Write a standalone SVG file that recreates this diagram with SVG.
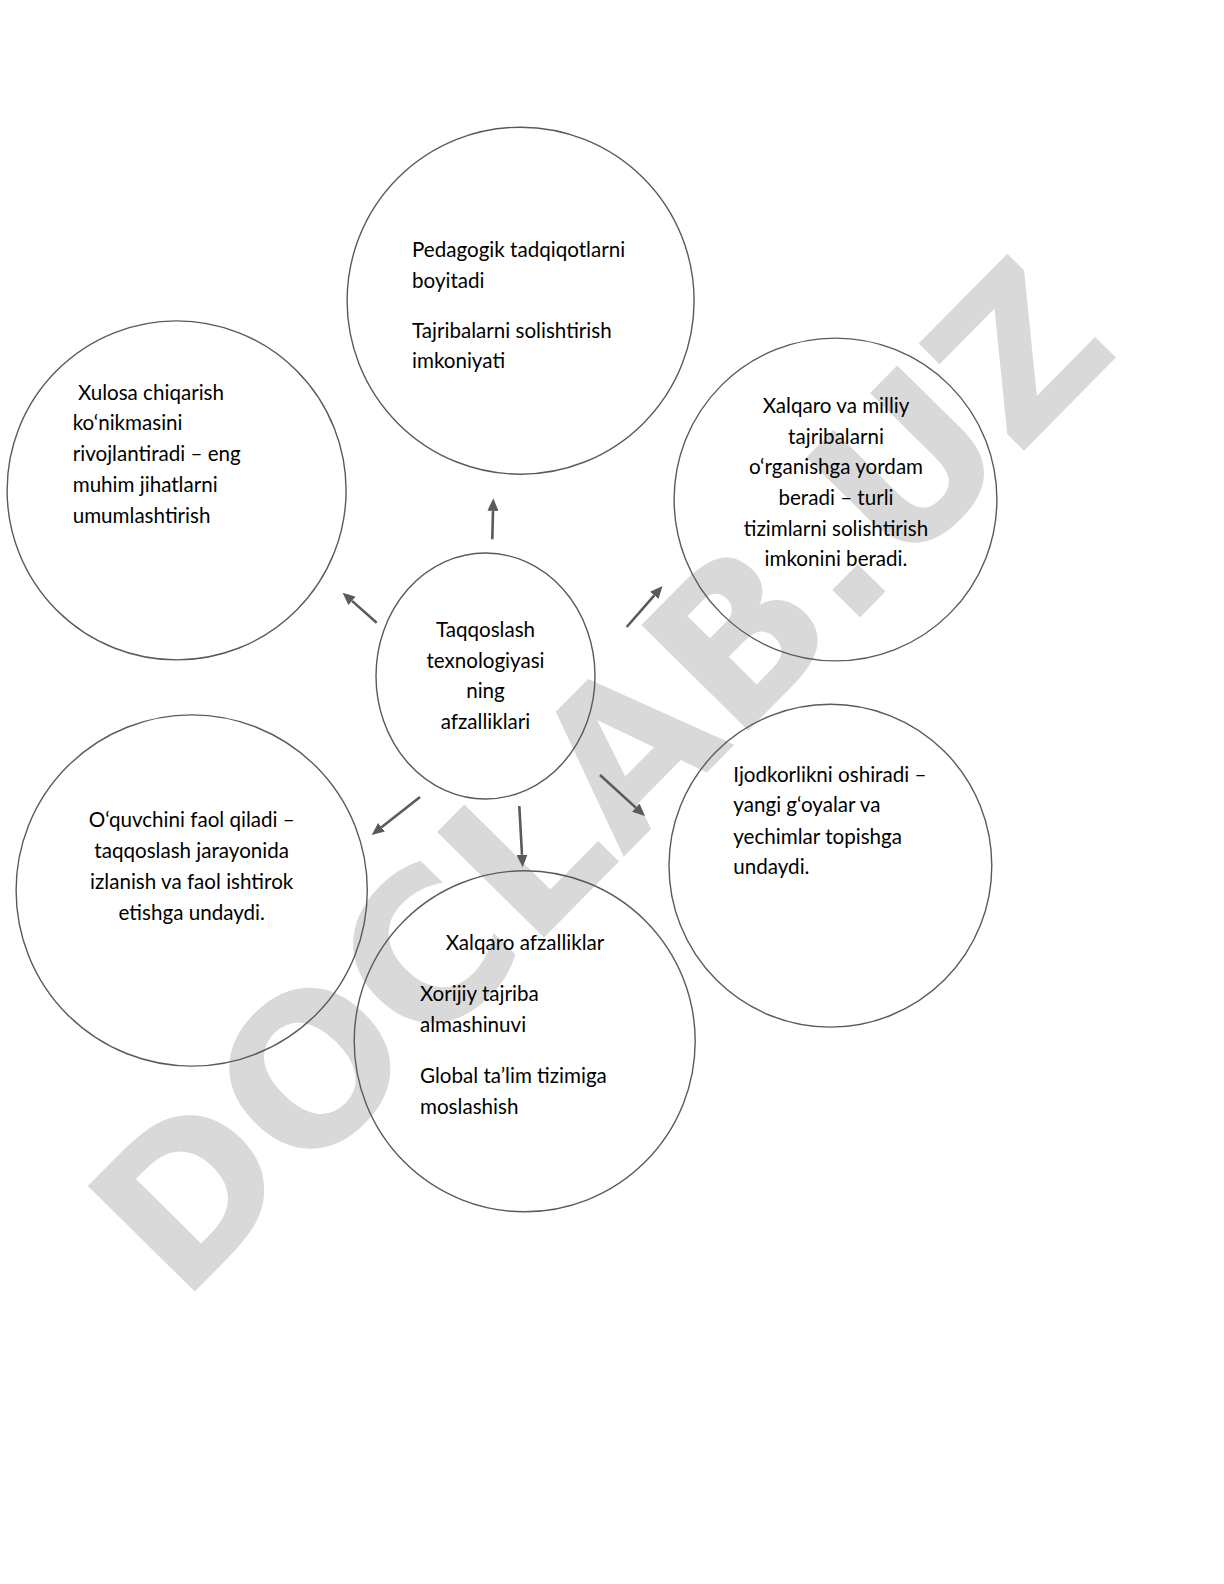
<svg xmlns="http://www.w3.org/2000/svg" width="1224" height="1584" viewBox="0 0 1224 1584">
<style>
.bg{fill:#ffffff}
.wm{font-family:"DejaVu Sans",sans-serif;font-weight:bold;font-size:206px;fill:#d9d9d9}
.node{fill:none;stroke:#5a5a5a;stroke-width:1.4}
.t{font-family:Lato,"Open Sans",sans-serif;font-size:20.6px;fill:#000000}
.c{text-anchor:middle}
.conn line{stroke:#5a5a5a;stroke-width:2.6;fill:none;marker-end:url(#ah)}
</style>
<defs>
<marker id="ah" markerUnits="userSpaceOnUse" markerWidth="13" markerHeight="11" refX="0" refY="5.5" orient="auto">
<path d="M0,0 L12.5,5.5 L0,11 z" fill="#5a5a5a"/>
</marker>
</defs>
<rect class="bg" x="0" y="0" width="1224" height="1584"/>
<text class="wm" x="652" y="828" text-anchor="middle" transform="rotate(-45.4 652 828)">DOCLAB.UZ</text>

<g id="node-top">
<ellipse class="node" cx="520.6" cy="300.7" rx="173.5" ry="173.5"/>
<text class="t" x="412" y="257">Pedagogik tadqiqotlarni</text>
<text class="t" x="412" y="288">boyitadi</text>
<text class="t" x="412" y="338">Tajribalarni solishtirish</text>
<text class="t" x="412" y="368">imkoniyati</text>
</g>

<g id="node-left">
<ellipse class="node" cx="176.6" cy="490.4" rx="169.5" ry="169.5"/>
<text class="t" x="72.7" y="399.5" xml:space="preserve"> Xulosa chiqarish</text>
<text class="t" x="72.7" y="429.8">ko‘nikmasini</text>
<text class="t" x="72.7" y="461">rivojlantiradi – eng</text>
<text class="t" x="72.7" y="492">muhim jihatlarni</text>
<text class="t" x="72.7" y="522.5">umumlashtirish</text>
</g>

<g id="node-right-top">
<ellipse class="node" cx="835.5" cy="499.5" rx="161.4" ry="161.4"/>
<text class="t c" x="836" y="413">Xalqaro va milliy</text>
<text class="t c" x="836" y="444">tajribalarni</text>
<text class="t c" x="836" y="474">o‘rganishga yordam</text>
<text class="t c" x="836" y="505">beradi – turli</text>
<text class="t c" x="836" y="536">tizimlarni solishtirish</text>
<text class="t c" x="836" y="566">imkonini beradi.</text>
</g>

<g id="node-center">
<ellipse class="node" cx="485.5" cy="676" rx="109.5" ry="123"/>
<text class="t c" x="485.5" y="637">Taqqoslash</text>
<text class="t c" x="485.5" y="667.5">texnologiyasi</text>
<text class="t c" x="485.5" y="698">ning</text>
<text class="t c" x="485.5" y="728.5">afzalliklari</text>
</g>

<g id="node-left-bottom">
<ellipse class="node" cx="191.7" cy="890.5" rx="175.6" ry="175.6"/>
<text class="t c" x="191.7" y="827">O‘quvchini faol qiladi –</text>
<text class="t c" x="191.7" y="857.6">taqqoslash jarayonida</text>
<text class="t c" x="191.7" y="889">izlanish va faol ishtirok</text>
<text class="t c" x="191.7" y="920">etishga undaydi.</text>
</g>

<g id="node-bottom">
<ellipse class="node" cx="524.7" cy="1041.3" rx="170.5" ry="170.5"/>
<text class="t c" x="525" y="950.4">Xalqaro afzalliklar</text>
<text class="t" x="420" y="1001">Xorijiy tajriba</text>
<text class="t" x="420" y="1032">almashinuvi</text>
<text class="t" x="420" y="1082.6">Global ta’lim tizimiga</text>
<text class="t" x="420" y="1114">moslashish</text>
</g>

<g id="node-right-bottom">
<ellipse class="node" cx="830.4" cy="865.7" rx="161.4" ry="161.4"/>
<text class="t" x="733.3" y="781.9">Ijodkorlikni oshiradi –</text>
<text class="t" x="733.3" y="812.2">yangi g‘oyalar va</text>
<text class="t" x="733.3" y="843.5">yechimlar topishga</text>
<text class="t" x="733.3" y="873.7">undaydi.</text>
</g>

<g id="connectors" class="conn">
<line x1="492.3" y1="539.3" x2="493" y2="510.8"/>
<line x1="376.7" y1="622.7" x2="352" y2="600.9"/>
<line x1="626.7" y1="627" x2="654.3" y2="595.4"/>
<line x1="420" y1="797" x2="381.5" y2="827.3"/>
<line x1="519.3" y1="806" x2="522" y2="854.8"/>
<line x1="600" y1="775" x2="635.8" y2="807.6"/>
</g>
</svg>
